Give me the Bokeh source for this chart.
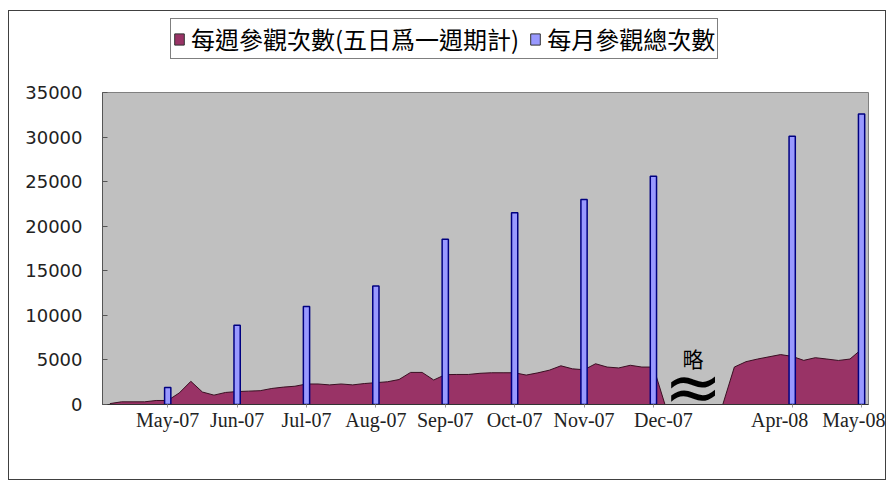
from bokeh.plotting import figure
from bokeh.layouts import column
from bokeh.models import (ColumnDataSource, FixedTicker, Legend, LegendItem,
                          Range1d)
from bokeh.core.properties import value
from bokeh.embed import file_html
from bokeh.resources import INLINE

# ---- data -------------------------------------------------------------
# monthly axis positions (Jan-Mar 08 omitted: gap of one slot)
month_labels = ["May-07", "Jun-07", "Jul-07", "Aug-07", "Sep-07", "Oct-07",
                "Nov-07", "Dec-07", "Apr-08", "May-08"]
month_pos = [0, 1, 2, 3, 4, 5, 6, 7, 9, 10]
monthly_totals = [1900, 8900, 11000, 13300, 18550, 21500, 23000, 25600,
                  30100, 32600]

# five-day-period counts, 6 periods per month, first period index -5
period_start = -5
periods_per_month = 6
period_counts = [100, 300, 300, 300, 450, 450, 1300, 2600, 1400, 1050,
                 1350, 1450, 1500, 1550, 1800, 1950, 2050, 2300, 2300, 2200,
                 2300, 2200, 2350, 2450, 2550, 2800, 3600, 3600, 2750, 3350,
                 3370, 3370, 3500, 3560, 3560, 3560, 3300, 3550, 3850, 4340,
                 4000, 3900, 4570, 4200, 4100, 4400, 4200, 4200,
                 0, 0, 0, 0, 0, 0,
                 4200, 4800, 5100, 5350, 5600, 5400, 4950, 5250, 5100, 4940,
                 5100, 6200]

label_weekly = "每週參觀次數(五日爲一週期計)"
label_monthly = "每月參觀總次數"
gap_text = "略"
gap_x = 7.57
gap_text_y = 5200
gap_sym_y = 2000

period_x = [(period_start + i) / periods_per_month
            for i in range(len(period_counts))]

W = 876
H = 468
TOP_H = 70
NB = "\u00a0"

# ---- legend strip -----------------------------------------------------
top = figure(width=W, height=TOP_H, output_backend="svg",
             toolbar_location=None, x_range=Range1d(0, 1),
             y_range=Range1d(0, 1), min_border=0, min_border_left=93,
             min_border_right=17, x_axis_type=None, y_axis_type=None)
top.outline_line_color = None
top.outline_line_alpha = 0
top.background_fill_color = None
top.border_fill_color = None
top.grid.visible = False
d1 = top.vbar(x=[0.5], top=[-5], width=0.1, fill_color="#993366",
              line_color="#333333", line_width=1)
d2 = top.vbar(x=[0.5], top=[-5], width=0.1, fill_color="#9999FF",
              line_color="#333333", line_width=1)
d1.visible = True
legend = Legend(items=[LegendItem(label=value(label_weekly), renderers=[d1]),
                       LegendItem(label=value(label_monthly), renderers=[d2])],
                orientation="horizontal", location=(68, 22))
legend.label_text_font = "Noto Sans CJK TC"
legend.label_text_font_size = "24px"
legend.label_text_color = "black"
legend.glyph_width = 12
legend.glyph_height = 14
legend.label_standoff = 6
legend.spacing = 10
legend.padding = 2
legend.margin = 0
legend.border_line_color = "black"
legend.border_line_width = 1.5
legend.background_fill_color = "white"
legend.background_fill_alpha = 1
top.add_layout(legend, "center")

# ---- main chart ---------------------------------------------------------
p = figure(width=W, height=H - TOP_H, output_backend="svg",
           toolbar_location=None,
           x_range=Range1d(-0.94, 10.1), y_range=Range1d(0, 35000),
           min_border_left=93, min_border_right=17, min_border_top=11,
           min_border_bottom=75)
p.background_fill_color = "#C0C0C0"
p.border_fill_color = "white"
p.outline_line_color = "#808080"
p.outline_line_width = 1
p.grid.visible = False

area_src = ColumnDataSource(dict(x=period_x, y=period_counts))
p.varea(x="x", y1=0, y2="y", source=area_src, fill_color="#993366")
p.line(x="x", y="y", source=area_src, line_color="#3a0f22", line_width=1)

bar_src = ColumnDataSource(dict(x=month_pos, top=monthly_totals))
p.vbar(x="x", top="top", width=0.09, source=bar_src,
       fill_color="#9999FF", line_color="#000080", line_width=1.5)

p.text(x=[gap_x], y=[gap_text_y], text=[gap_text],
       text_font=value("Noto Sans CJK TC"), text_font_size="21px",
       text_align="center", text_baseline="middle", text_color="black")
p.text(x=[gap_x], y=[gap_sym_y], text=["≈"],
       text_font=value("DejaVu Sans"), text_font_size="70px",
       text_align="center", text_baseline="middle", text_color="black")

p.yaxis.ticker = FixedTicker(ticks=list(range(0, 35001, 5000)))
p.yaxis.major_tick_in = 5
p.yaxis.major_tick_out = 0
p.yaxis.minor_tick_line_color = None
p.yaxis.major_label_standoff = 20
p.yaxis.major_label_text_font = "DejaVu Sans"
p.yaxis.major_label_text_font_size = "18px"
p.yaxis.major_label_text_color = "#222222"
p.yaxis.axis_line_color = "#555555"
p.yaxis.major_tick_line_color = "#555555"

# label placement nudges (as in the original: Dec label right, Apr left)
label_pad = {"Dec-07": (4, 0), "Apr-08": (0, 5)}
overrides = {}
for pos, lab in zip(month_pos, month_labels):
    lead, trail = label_pad.get(lab, (0, 0))
    overrides[pos] = NB * lead + lab + NB * trail

p.xaxis.ticker = FixedTicker(ticks=month_pos)
p.xaxis.major_label_overrides = overrides
p.xaxis.major_tick_in = 0
p.xaxis.major_tick_out = 3
p.xaxis.major_tick_line_color = "#999999"
p.xaxis.minor_tick_line_color = None
p.xaxis.major_label_standoff = 1
p.xaxis.major_label_text_font = "Liberation Serif"
p.xaxis.major_label_text_font_size = "20px"
p.xaxis.major_label_text_color = "#222222"
p.xaxis.axis_line_color = "#333333"

layout = column(top, p, spacing=0,
                styles={"border": "1px solid #404040",
                        "margin-left": "8px", "margin-top": "10px"})

open("out.html", "w").write(file_html(layout, INLINE))
